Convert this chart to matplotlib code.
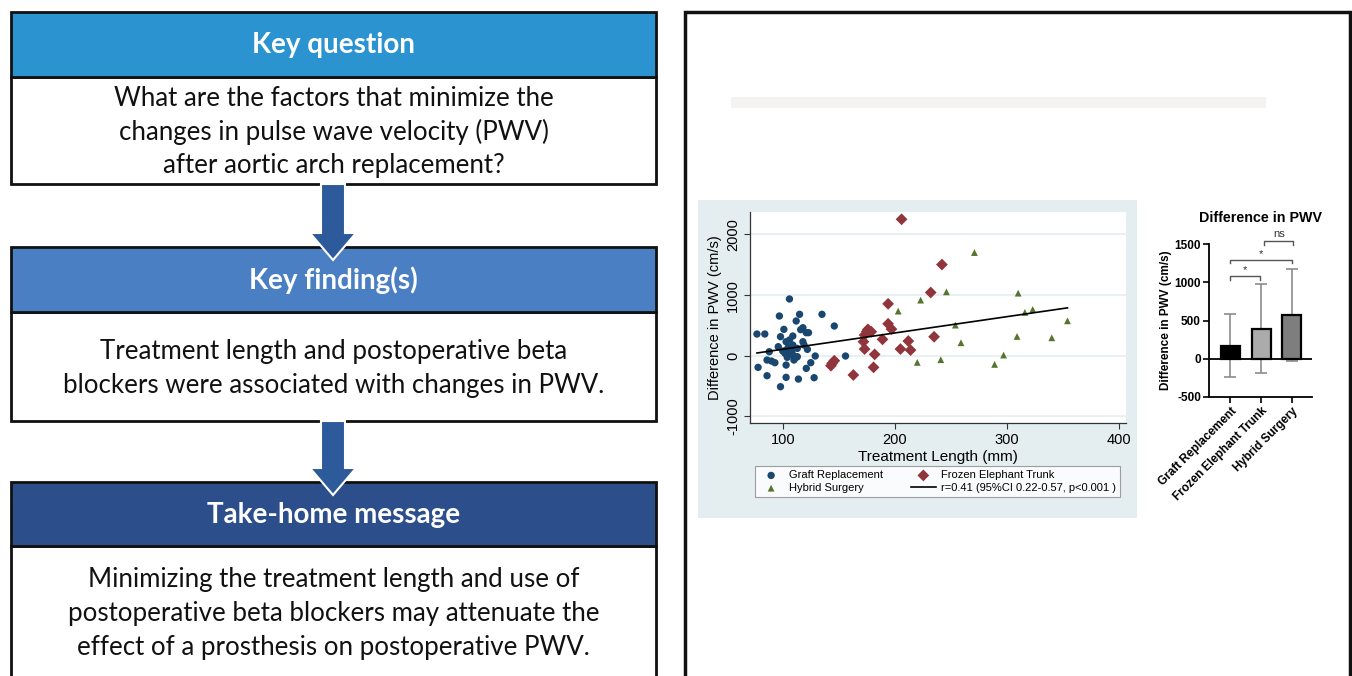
import matplotlib
matplotlib.use("Agg")
import matplotlib.pyplot as plt
from matplotlib.patches import Rectangle, Polygon
import numpy as np

# ---------------- data ----------------
graft_x = [106, 77, 84, 97, 115, 135, 146, 112, 101, 118, 123, 121, 98, 109, 106, 103, 118, 119, 96, 109,
           113, 100, 104, 102, 107, 109, 104, 112, 122, 88, 129, 90, 86, 93, 78, 103, 110, 113, 125, 121,
           156, 86, 103, 114, 128, 98, 108, 116, 105]
graft_y = [936, 358, 358, 655, 683, 683, 490, 573, 435, 462, 380, 380, 314, 325, 259, 231, 231, 176, 149, 176,
           121, 78, 105, 39, 39, 11, -27, -27, 105, 66, -5, -88, -71, -115, -192, -154, -71, -16, -115, -209,
           -5, -330, -357, -385, -363, -511, 66, 430, 140]
fet_x = [206, 242, 232, 194, 194, 197, 176, 179, 173, 172, 173, 182, 181, 189, 212, 235, 205, 214, 163, 146,
         144, 143, 175]
fet_y = [2251, 1504, 1043, 856, 527, 439, 435, 396, 341, 231, 110, 22, -192, 270, 242, 313, 110, 93, -318, -82,
         -126, -165, 400]
hyb_x = [271, 310, 246, 223, 203, 316, 323, 254, 259, 309, 340, 354, 297, 289, 241, 220]
hyb_y = [1702, 1032, 1054, 917, 736, 714, 763, 505, 214, 318, 296, 576, 11, -143, -66, -110]

x_ticks = [100, 200, 300, 400]
y_ticks = [-1000, 0, 1000, 2000]
legend_labels = ["Graft Replacement", "Hybrid Surgery", "Frozen Elephant Trunk",
                 "r=0.41 (95%CI 0.22-0.57, p<0.001 )"]

bar_groups = ["Graft Replacement", "Frozen Elephant Trunk", "Hybrid Surgery"]
bar_means = [170, 395, 575]
bar_sds = [418, 587, 605]
bar_colors = ["#000000", "#ABABAB", "#7E7E7E"]
bar_yticks = [-500, 0, 500, 1000, 1500]
sig_pairs = [(0, 0.97, "*", 1080), (0, 2, "*", 1300), (1.1, 2.05, "ns", 1540)]

box_headers = ["Key question", "Key finding(s)", "Take-home message"]
box_texts = ["What are the factors that minimize the\nchanges in pulse wave velocity (PWV)\nafter aortic arch replacement?",
             "Treatment length and postoperative beta\nblockers were associated with changes in PWV.",
             "Minimizing the treatment length and use of\npostoperative beta blockers may attenuate the\neffect of a prosthesis on postoperative PWV."]
header_colors = ["#2A93D0", "#4A80C3", "#2C4F8C"]

# ---------------- figure ----------------
W, H = 1352, 676
fig = plt.figure(figsize=(W / 100, H / 100), dpi=100)
bg = fig.add_axes([0, 0, 1, 1])
bg.set_xlim(0, W)
bg.set_ylim(H, 0)
bg.axis("off")

LF = "Lato"
boxes = [(12, 77, 184), (247, 312, 421), (482, 546, 690)]
line_y = [[98, 131.5, 165], [351.5, 385], [580, 614, 648]]
for i, (ht, hb, bb) in enumerate(boxes):
    bg.add_patch(Rectangle((11, hb), 645, bb - hb, facecolor="white", edgecolor="#111111", lw=2, zorder=2))
    bg.add_patch(Rectangle((11, ht), 645, hb - ht, facecolor=header_colors[i], edgecolor="#111111", lw=2, zorder=3))
    bg.text(333.5, (ht + hb) / 2 + 1, box_headers[i], color="white", fontsize=20, fontweight="bold",
            family=LF, ha="center", va="center", zorder=6)
    for ln, yy in zip(box_texts[i].split("\n"), line_y[i]):
        bg.text(333.5, yy, ln, color="#111111", fontsize=18.6, family=LF, ha="center", va="center", zorder=6)

arrow_col = "#2D5A9A"
for top, hs, tip in [(184, 233, 260), (421, 468, 495)]:
    pts = [(321, top), (345, top), (345, hs), (356, hs), (333, tip), (310, hs), (321, hs)]
    bg.add_patch(Polygon(pts, closed=True, facecolor=arrow_col, edgecolor="white", lw=1.5, zorder=5))

# right panel frame
bg.add_patch(Rectangle((685, 12), 665, 680, facecolor="white", edgecolor="#111111", lw=2.5, zorder=1))
bg.add_patch(Rectangle((731, 97), 535, 11, facecolor="#F4F3F1", edgecolor="none", zorder=2))
bg.add_patch(Rectangle((698, 200), 439, 318, facecolor="#E4EEF1", edgecolor="none", zorder=2))

# ---------------- scatter ----------------
SF = "Liberation Sans"
navy, maroon, green = "#1A476F", "#90353B", "#55752F"
ax = fig.add_axes([750 / W, 1 - 423.3 / H, 376 / W, 211.6 / H])
ax.set_facecolor("white")
ax.set_xlim(70.8, 406.2)
ax.set_ylim(-1115, 2376)
for y in y_ticks:
    ax.axhline(y, color="#E6EFF2", lw=1.3, zorder=0)
h1 = ax.scatter(graft_x, graft_y, s=28, marker="o", color=navy, edgecolors="none", zorder=3)
h2 = ax.scatter(fet_x, fet_y, s=36, marker="D", color=maroon, edgecolors="none", zorder=3)
h3 = ax.scatter(hyb_x, hyb_y, s=24, marker="^", color=green, edgecolors="none", zorder=3)
allx = np.array(graft_x + fet_x + hyb_x, dtype=float)
ally = np.array(graft_y + fet_y + hyb_y, dtype=float)
b, a = np.polyfit(allx, ally, 1)
xs = np.array([allx.min(), allx.max()])
h4, = ax.plot(xs, a + b * xs, color="black", lw=1.2, zorder=4)
ax.set_xticks(x_ticks)
ax.set_yticks(y_ticks)
ax.set_xticklabels([str(t) for t in x_ticks], family=SF, fontsize=10.5)
ax.set_yticklabels([str(t) for t in y_ticks], family=SF, fontsize=10.5, rotation=90, va="center")
for s in ["top", "right"]:
    ax.spines[s].set_visible(False)
for s in ["left", "bottom"]:
    ax.spines[s].set_color("#333333")
    ax.spines[s].set_linewidth(0.9)
ax.tick_params(direction="out", length=4, width=0.8, color="#333333", pad=3)
ax.set_xlabel("Treatment Length (mm)", family=SF, fontsize=11, labelpad=2)
ax.set_ylabel("Difference in PWV (cm/s)", family=SF, fontsize=10.5, labelpad=3)

leg = fig.legend([h1, h3, h2, h4], legend_labels, ncol=2, loc="lower left",
                 bbox_to_anchor=(755 / W, 1 - 497 / H, 365 / W, 30 / H), mode="expand",
                 prop={"family": SF, "size": 8}, frameon=True, fancybox=False, edgecolor="#888888",
                 handlelength=2.2, handletextpad=0.5, labelspacing=0.25, borderpad=0.35, columnspacing=1.0,
                 borderaxespad=0)
leg.get_frame().set_linewidth(0.8)
leg.set_zorder(10)

# ---------------- bar chart ----------------
bx = fig.add_axes([1209.3 / W, 1 - 396.7 / H, 102.4 / W, 152.4 / H])
bx.set_facecolor("none")
pos = np.arange(len(bar_groups))
bx.errorbar(pos, bar_means, yerr=bar_sds, fmt="none", ecolor="#8C8C8C", elinewidth=1.2,
            capsize=4, capthick=1.2, zorder=1)
bx.bar(pos, bar_means, width=0.62, color=bar_colors, edgecolor="black", lw=1.6, zorder=2)
bx.axhline(0, color="black", lw=1.3, zorder=3)
bx.set_xlim(-0.69, 2.65)
bx.set_ylim(-500, 1500)
bx.set_yticks(bar_yticks)
bx.set_yticklabels([str(t) for t in bar_yticks], family=SF, fontsize=8.5, fontweight="bold")
bx.set_xticks(pos)
bx.set_xticklabels(bar_groups, rotation=45, ha="right", rotation_mode="anchor",
                   family=SF, fontsize=8.5, fontweight="bold")
for s in ["top", "right"]:
    bx.spines[s].set_visible(False)
for s in ["left", "bottom"]:
    bx.spines[s].set_linewidth(1.3)
bx.tick_params(direction="out", length=4, width=1.2, pad=2)
bx.set_ylabel("Difference in PWV (cm/s)", family=SF, fontsize=8.5, fontweight="bold", labelpad=2)
bx.set_title("Difference in PWV", family=SF, fontsize=10.3, fontweight="bold", pad=16)
for x0, x1, lab, yb in sig_pairs:
    bx.plot([x0, x0, x1, x1], [yb - 50, yb, yb, yb - 50], color="#555555", lw=1.0, clip_on=False)
    off = 10 if lab == "*" else 30
    bx.text((x0 + x1) / 2, yb + off, lab, ha="center", va="bottom", family=SF, fontsize=8,
            color="#333333")

fig.savefig("out.png", dpi=100)
